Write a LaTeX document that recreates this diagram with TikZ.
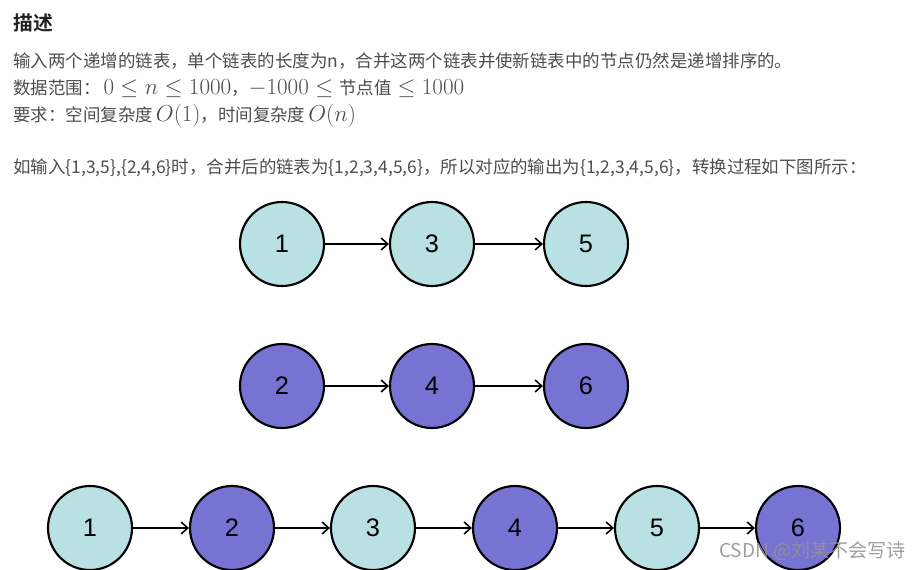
\documentclass[tikz,border=0pt]{standalone}
\usepackage[no-math]{fontspec}
\usetikzlibrary{arrows.meta}
\newfontfamily\cjk{Noto Sans CJK SC}
\newfontfamily\cjkbold{Noto Sans CJK SC Bold}
\newfontfamily\arialf{Liberation Sans}
\definecolor{txtgray}{RGB}{77,77,77}
\definecolor{titlegray}{RGB}{34,34,34}
\definecolor{lightc}{RGB}{185,224,226}
\definecolor{purp}{RGB}{118,115,210}
\tikzset{
  txt/.style={anchor=base west, inner sep=0pt, text=txtgray, font=\cjk\fontsize{13.1pt}{15pt}\selectfont},
  lnode/.style={circle, draw=black, line width=1.6pt, minimum size=63pt, inner sep=0pt, font=\arialf\fontsize{19pt}{22pt}\selectfont},
  lc/.style={lnode, fill=lightc},
  pc/.style={lnode, fill=purp},
  link/.style={line width=1.2pt, -{Straight Barb[length=5pt,width=9pt,line width=1.2pt]}},
}
\newcommand{\mth}[1]{{\fontsize{16.5pt}{18pt}\selectfont$#1$}}
\begin{document}
\begin{tikzpicture}[x=0.75pt,y=-0.75pt]
\useasboundingbox (0,0) rectangle (921,570);
\node[anchor=base west, inner sep=0pt, text=titlegray, font=\cjkbold\fontsize{14.8pt}{17pt}\selectfont] (title) at (13,31) {描述};
\node[txt] (l1) at (13,68) {输入两个递增的链表，单个链表的长度为n，合并这两个链表并使新链表中的节点仍然是递增排序的。};
\node[txt] (l2) at (13,95) {数据范围：\,\mth{0 \le n \le 1000}，\mth{-1000 \le}\hspace{4.5pt}节点值\hspace{4.5pt}\mth{\le 1000}};
\node[txt] (l3) at (13,122) {要求：空间复杂度\,\mth{O(1)}，时间复杂度\,\mth{O(n)}};
\node[txt] (l4) at (13,174) {如输入\{1,3,5\},\{2,4,6\}时，合并后的链表为\{1,2,3,4,5,6\}，所以对应的输出为\{1,2,3,4,5,6\}，转换过程如下图所示：};

\node[lc] (a1) at (282,244) {1};
\node[lc] (a3) at (432,244) {3};
\node[lc] (a5) at (586,244) {5};
\draw[link] (a1) -- (a3);
\draw[link] (a3) -- (a5);

\node[pc] (b2) at (282,386) {2};
\node[pc] (b4) at (432,386) {4};
\node[pc] (b6) at (586,386) {6};
\draw[link] (b2) -- (b4);
\draw[link] (b4) -- (b6);

\node[lc] (c1) at (90,528) {1};
\node[pc] (c2) at (232,528) {2};
\node[lc] (c3) at (373,528) {3};
\node[pc] (c4) at (515,528) {4};
\node[lc] (c5) at (657,528) {5};
\node[pc] (c6) at (798,528) {6};
\draw[link] (c1) -- (c2);
\draw[link] (c2) -- (c3);
\draw[link] (c3) -- (c4);
\draw[link] (c4) -- (c5);
\draw[link] (c5) -- (c6);

\node[anchor=base east, inner sep=0pt, text=gray!85, opacity=0.9, font=\cjk\fontsize{14.3pt}{16pt}\selectfont] (wm) at (906,557) {CSDN @刘某不会写诗};
\end{tikzpicture}
\end{document}
